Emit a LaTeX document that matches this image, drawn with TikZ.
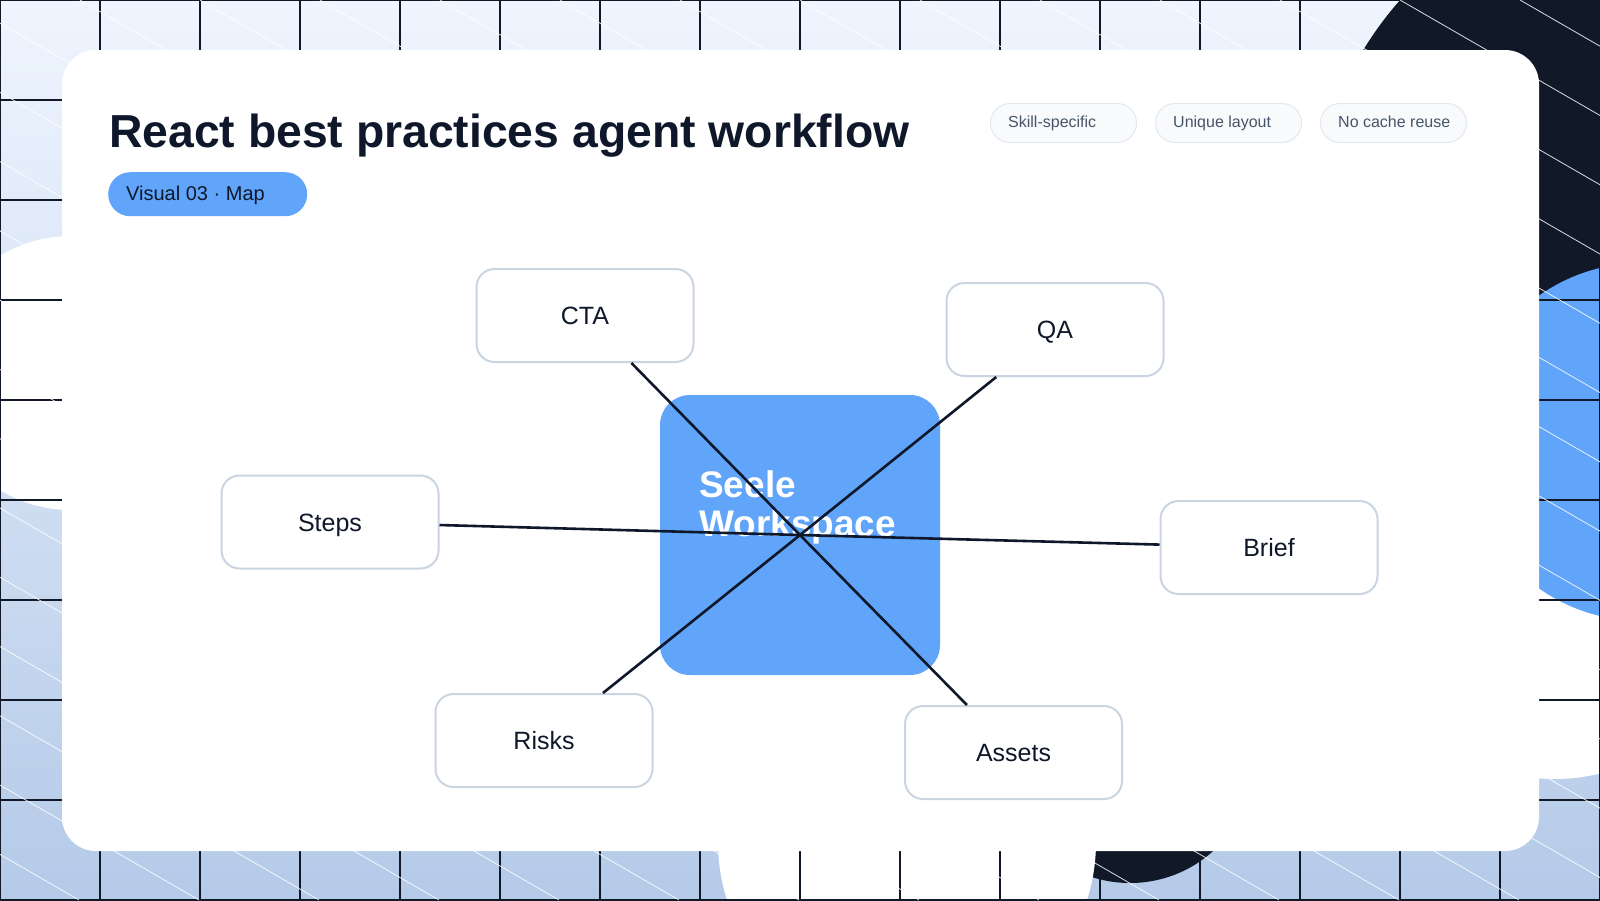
\documentclass[tikz,border=0pt]{standalone}
\usepackage{fontspec}
\setmainfont{Liberation Sans}
\definecolor{navy}{HTML}{111827}
\definecolor{ink}{HTML}{0F172A}
\definecolor{sky}{HTML}{60A5FA}
\definecolor{bgtop}{HTML}{EFF5FE}
\definecolor{bgbot}{HTML}{B4CAE8}
\definecolor{tagfill}{HTML}{F8FAFC}
\definecolor{tagline}{HTML}{E2E8F0}
\definecolor{tagtext}{HTML}{475569}
\definecolor{boxline}{HTML}{CBD5E1}
\begin{document}
\begin{tikzpicture}[x=1pt,y=-1pt,
  gridline/.style={draw=navy, line width=1.1pt},
  hatch/.style={draw=white, line width=0.8pt, draw opacity=0.85},
  tag/.style={draw=tagline, line width=1pt, fill=tagfill, rounded corners=19.5pt,
    minimum width=146pt, minimum height=39pt, inner sep=0pt, anchor=north west},
  tagtxt/.style={anchor=base west, inner sep=0pt, text=tagtext, font=\fontsize{16}{19}\selectfont},
  box/.style={draw=boxline, line width=2pt, fill=white, rounded corners=18pt,
    minimum width=217pt, minimum height=93pt, inner sep=0pt, text=ink,
    font=\fontsize{25}{30}\selectfont, text height=18pt, text depth=0pt},
  hubtxt/.style={anchor=base west, inner sep=0pt, text=white, font=\bfseries\fontsize{37}{41}\selectfont},
  conn/.style={draw=ink, line width=2.6pt}
]
\useasboundingbox (0,0) rectangle (1600,900);
% background
\shade[top color=bgtop, bottom color=bgbot] (0,0) rectangle (1600,900);
\begin{scope}
\clip (0,0) rectangle (1600,900);
\fill[navy] (1660,230) circle[radius=347];
\fill[navy] (1130,759) circle[radius=124];
\fill[white] (71,373) circle[radius=137];
\fill[white] (907,842) circle[radius=189];
\fill[white] (1555,595) circle[radius=184];
\fill[sky] (1642,442) circle[radius=179];
\foreach \i in {0,100,...,1600} \draw[gridline] (\i,0) -- (\i,900);
\foreach \j in {0,100,...,900} \draw[gridline] (0,\j) -- (1600,\j);
\foreach \k in {-14,...,13} \draw[hatch] ({80+120*\k},0) -- ({80+120*\k+1559},900);
\end{scope}
% card
\fill[white, rounded corners=34pt] (62,50) rectangle (1539,851);
% header
\node[anchor=base west, inner sep=0pt, text=ink, font=\bfseries\fontsize{46.3}{55}\selectfont] (title) at (109,147) {React best practices agent workflow};
\node[fill=sky, rounded corners=22pt, minimum width=199pt, minimum height=44pt, inner sep=0pt, anchor=north west] (badge) at (108,172) {};
\node[anchor=base west, inner sep=0pt, text=ink, font=\fontsize{20}{24}\selectfont] (badgetxt) at (126,200) {Visual 03 · Map};
\node[tag] (t1) at (990,103) {};
\node[tagtxt] (t1t) at (1008,127) {Skill-specific};
\node[tag] (t2) at (1155,103) {};
\node[tagtxt] (t2t) at (1173,127) {Unique layout};
\node[tag] (t3) at (1320,103) {};
\node[tagtxt] (t3t) at (1338,127) {No cache reuse};
% nodes
\node[box] (cta) at (585,315.5) {CTA};
\node[box] (qa) at (1055,329.5) {QA};
\node[box] (steps) at (330,522) {Steps};
\node[box] (brief) at (1269,547.5) {Brief};
\node[box] (risks) at (544,740.5) {Risks};
\node[box] (assets) at (1013.5,752.5) {Assets};
\node[fill=sky, rounded corners=30pt, minimum width=280pt, minimum height=280pt, inner sep=0pt] (hub) at (800,535) {};
\node[hubtxt] (hubtop) at (699,497) {Seele};
\node[hubtxt] (hubbot) at (699,536) {Workspace};
% connectors
\draw[conn] (cta) -- (hub.center);
\draw[conn] (qa) -- (hub.center);
\draw[conn] (steps) -- (hub.center);
\draw[conn] (brief) -- (hub.center);
\draw[conn] (risks) -- (hub.center);
\draw[conn] (assets) -- (hub.center);
\end{tikzpicture}
\end{document}
